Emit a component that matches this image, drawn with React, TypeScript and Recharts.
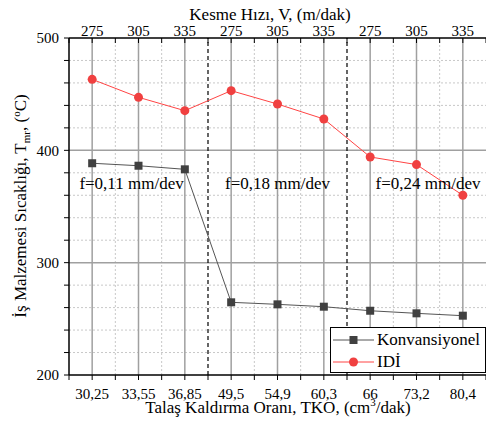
import React from 'react';
import { LineChart, Line, XAxis, YAxis, ReferenceLine, ReferenceDot, Legend, Label } from 'recharts';

const tkoLabels = ['30,25', '33,55', '36,85', '49,5', '54,9', '60,3', '66', '73,2', '80,4'];
const speedLabels = ['275', '305', '335', '275', '305', '335', '275', '305', '335'];
const konvansiyonel = [388.5, 386.3, 383.1, 264.7, 262.9, 260.8, 257.2, 254.9, 252.8];
const idi = [463.2, 447.2, 435.3, 453.1, 441.2, 427.9, 394.1, 387.3, 360.0];
const feedLabels = ['f=0,11 mm/dev', 'f=0,18 mm/dev', 'f=0,24 mm/dev'];
const seriesNames = ['Konvansiyonel', 'IDİ'];
const yTickValues = [200, 220, 240, 260, 280, 300, 320, 340, 360, 380, 400, 420, 440, 460, 480, 500];

const FONT = "'Liberation Serif', 'Times New Roman', serif";

const data = tkoLabels.map((t, i) => ({
  i: i + 1,
  tko: t,
  v: speedLabels[i],
  konv: konvansiyonel[i],
  idi: idi[i],
}));

const xTicks: number[] = [];
for (let k = 0; k <= tkoLabels.length * 2; k++) xTicks.push(0.5 + k * 0.5);
const majorX = data.map((d) => d.i);
const minorX = xTicks.filter((t) => t % 1 !== 0 && t > 0.5 && t < tkoLabels.length + 0.5);
const groupBounds = [3.5, 6.5];
const minorY = yTickValues.filter((v) => v % 100 !== 0);
const majorY = [300, 400];

const fmtBottom = (v: number) => (Number.isInteger(v) ? tkoLabels[v - 1] ?? '' : '');
const fmtTop = (v: number) => (Number.isInteger(v) ? speedLabels[v - 1] ?? '' : '');
const fmtY = (v: number) => (v % 100 === 0 ? String(v) : '');

const SquareDot = (props: any) => {
  const { cx, cy, index } = props;
  if (cx == null || cy == null) return <g key={index} />;
  return <rect key={index} x={cx - 4} y={cy - 4} width={8} height={8} fill="#404040" />;
};

const YTitle = () => (
  <text transform="translate(26,206) rotate(-90)" textAnchor="middle" fontSize={17} fontFamily={FONT} fill="#000">
    İş Malzemesi Sıcaklığı, T
    <tspan fontSize={11} dy={4}>mr</tspan>
    <tspan dy={-4}>, (</tspan>
    <tspan fontSize={11} dy={-6}>o</tspan>
    <tspan dy={6}>C)</tspan>
  </text>
);

const BottomTitle = () => (
  <text x={278} y={413} textAnchor="middle" fontSize={17} fontFamily={FONT} fill="#000">
    Talaş Kaldırma Oranı, TKO, (cm
    <tspan fontSize={11} dy={-7}>3</tspan>
    <tspan dy={7}>/dak)</tspan>
  </text>
);

const TopTitle = () => (
  <text x={270} y={20} textAnchor="middle" fontSize={17} fontFamily={FONT} fill="#000">
    Kesme Hızı, V, (m/dak)
  </text>
);

const renderLegend = () => (
  <div
    style={{
      position: 'relative',
      width: 156,
      height: 46,
      boxSizing: 'border-box',
      border: '1.5px solid #000',
      background: '#fff',
      fontFamily: FONT,
      fontSize: 17,
      color: '#000',
    }}
  >
    <svg width={44} height={46} style={{ position: 'absolute', left: 1, top: 0 }}>
      <line x1={1} x2={42} y1={12} y2={12} stroke="#555" strokeWidth={1} />
      <rect x={17.5} y={8} width={8} height={8} fill="#404040" />
      <line x1={1} x2={42} y1={34} y2={34} stroke="#f44" strokeWidth={1} />
      <circle cx={21.5} cy={34} r={4.5} fill="#f04040" />
    </svg>
    <div style={{ position: 'absolute', left: 46, top: 2, lineHeight: '20px', whiteSpace: 'nowrap' }}>{seriesNames[0]}</div>
    <div style={{ position: 'absolute', left: 46, top: 24, lineHeight: '20px', whiteSpace: 'nowrap' }}>{seriesNames[1]}</div>
  </div>
);

export default function App() {
  return (
    <div style={{ position: 'absolute', left: 0, top: 0, width: 486, height: 423, background: '#fff' }}>
      <LineChart width={486} height={423} data={data} margin={{ top: 0, right: 0, bottom: 0, left: 0 }}>
        <XAxis
          dataKey="i"
          type="number"
          domain={[0.5, 9.5]}
          ticks={xTicks}
          tickFormatter={fmtBottom}
          interval={0}
          height={48}
          tickSize={5}
          tickMargin={8}
          axisLine={{ stroke: '#000', strokeWidth: 1.5 }}
          tickLine={{ stroke: '#000', strokeWidth: 1 }}
          tick={{ fontSize: 15, fill: '#000', fontFamily: FONT }}
        >
          <Label content={BottomTitle} />
        </XAxis>
        <XAxis
          xAxisId="top"
          orientation="top"
          dataKey="i"
          type="number"
          domain={[0.5, 9.5]}
          ticks={xTicks}
          tickFormatter={fmtTop}
          interval={0}
          height={38}
          tickSize={-5}
          tickMargin={7}
          axisLine={{ stroke: '#000', strokeWidth: 1.5 }}
          tickLine={{ stroke: '#000', strokeWidth: 1 }}
          tick={{ fontSize: 15, fill: '#000', fontFamily: FONT }}
        >
          <Label content={TopTitle} />
        </XAxis>
        <YAxis
          type="number"
          domain={[200, 500]}
          ticks={yTickValues}
          tickFormatter={fmtY}
          interval={0}
          width={69}
          tickSize={5}
          tickMargin={5}
          axisLine={{ stroke: '#000', strokeWidth: 1.5 }}
          tickLine={{ stroke: '#000', strokeWidth: 1 }}
          tick={{ fontSize: 15, fill: '#000', fontFamily: FONT }}
        >
          <Label content={YTitle} />
        </YAxis>

        {minorY.map((y) => (
          <ReferenceLine key={'my' + y} y={y} stroke="#c8c8c8" strokeDasharray="2 2" strokeWidth={1} />
        ))}
        {minorX.filter((x) => !groupBounds.includes(x)).map((x) => (
          <ReferenceLine key={'mx' + x} x={x} stroke="#c8c8c8" strokeDasharray="2 2" strokeWidth={1} />
        ))}
        {majorY.map((y) => (
          <ReferenceLine key={'My' + y} y={y} stroke="#a0a0a0" strokeWidth={1.5} />
        ))}
        {majorX.map((x) => (
          <ReferenceLine key={'Mx' + x} x={x} stroke="#a0a0a0" strokeWidth={1.5} />
        ))}
        {groupBounds.map((x) => (
          <ReferenceLine key={'gb' + x} x={x} stroke="#000" strokeDasharray="4 3" strokeWidth={1.2} />
        ))}

        <ReferenceDot x={1.85} y={371} r={0} fill="none" stroke="none"
          label={{ value: feedLabels[0], fontSize: 17, fill: '#000', fontFamily: FONT, position: 'center' }} />
        <ReferenceDot x={5} y={371} r={0} fill="none" stroke="none"
          label={{ value: feedLabels[1], fontSize: 17, fill: '#000', fontFamily: FONT, position: 'center' }} />
        <ReferenceDot x={8.25} y={371} r={0} fill="none" stroke="none"
          label={{ value: feedLabels[2], fontSize: 17, fill: '#000', fontFamily: FONT, position: 'center' }} />

        <Line
          type="linear"
          dataKey="konv"
          name={seriesNames[0]}
          stroke="#555"
          strokeWidth={1}
          dot={SquareDot}
          activeDot={false}
          isAnimationActive={false}
        />
        <Line
          type="linear"
          dataKey="idi"
          name={seriesNames[1]}
          stroke="#f44"
          strokeWidth={1}
          dot={{ r: 4.5, fill: '#f04040', stroke: 'none' }}
          activeDot={false}
          isAnimationActive={false}
        />
        <Legend
          layout="vertical"
          align="center"
          verticalAlign="middle"
          content={renderLegend}
          wrapperStyle={{ left: 330, top: 327, width: 156, height: 46 }}
        />
      </LineChart>
    </div>
  );
}
